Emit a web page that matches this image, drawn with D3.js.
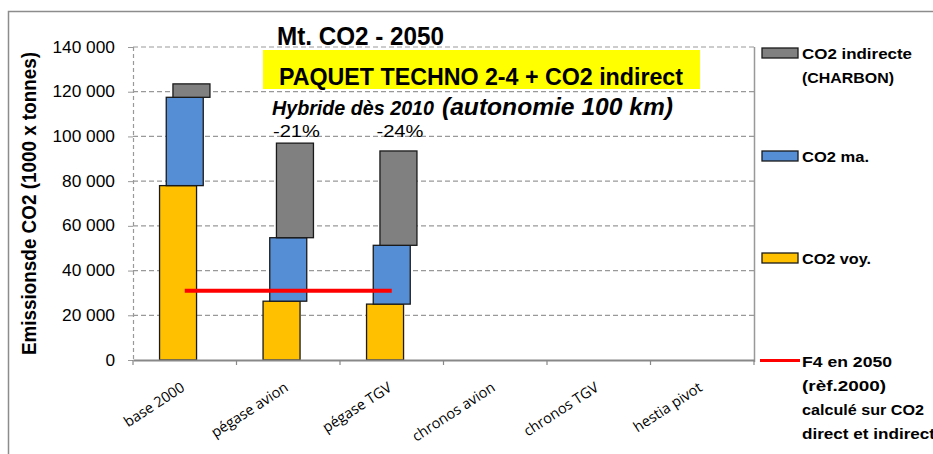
<!DOCTYPE html>
<html>
<head>
<meta charset="utf-8">
<script src="https://cdn.jsdelivr.net/npm/d3@7"></script>
<style>
  html, body { margin: 0; padding: 0; background: #fff; }
  svg { display: block; }
</style>
</head>
<body>
<svg id="chart" width="933" height="454"></svg>
<script>
// Scenario categories
const categories = ["base 2000", "pégase avion", "pégase TGV", "chronos avion", "chronos TGV", "hestia pivot"];
// CO2 emissions in 2050, thousand tonnes
const co2Voy = [78000, 26300, 25000, null, null, null];
const co2Ma = [39500, 28400, 26300, null, null, null];
const co2Indirect = [6000, 42300, 42200, null, null, null];
// Factor 4 target (relative to 2000), direct + indirect CO2
const f4Target = [31000, 31000, 31000, null, null, null];
const yTicks = [0, 20000, 40000, 60000, 80000, 100000, 120000, 140000];

const seriesNames = {
  indirect: ["CO2 indirecte", "(CHARBON)"],
  ma: ["CO2 ma."],
  voy: ["CO2 voy."],
  f4: ["F4 en 2050", "(rèf.2000)", "calculé sur CO2", "direct et indirect"]
};

const colors = { voy: "#FFC000", ma: "#558ED5", indirect: "#808080", f4: "#FF0000" };
const SANS = "Liberation Sans, Arial, sans-serif";

const svg = d3.select("#chart");
const plot = { left: 133, right: 754, top: 47, bottom: 360 };

// Helper: text squeezed/stretched to a given advance width
function fitText(sel, width) {
  return sel.attr("textLength", width).attr("lengthAdjust", "spacingAndGlyphs");
}

// Outer chart frame
svg.append("rect")
  .attr("x", 8.5).attr("y", 11.5).attr("width", 1000).attr("height", 1000)
  .attr("fill", "none").attr("stroke", "#8c8c8c").attr("stroke-width", 1.5);

const x = d3.scaleBand().domain(categories).range([plot.left, plot.right]).padding(0);
const y = d3.scaleLinear().domain([0, 140000]).range([plot.bottom, plot.top]);

// Horizontal dashed gridlines
svg.append("g").selectAll("line").data(yTicks.filter(d => d > 0)).join("line")
  .attr("x1", plot.left).attr("x2", plot.right)
  .attr("y1", d => y(d)).attr("y2", d => y(d))
  .attr("stroke", "#999").attr("stroke-width", 1.2).attr("stroke-dasharray", "5,3");

// Right edge of plot area
svg.append("line")
  .attr("x1", plot.right + 0.5).attr("x2", plot.right + 0.5)
  .attr("y1", plot.top).attr("y2", plot.bottom + 2)
  .attr("stroke", "#999").attr("stroke-width", 1.5);

// Y axis
const fmt = d => d3.format(",")(d).replace(/,/g, " ");
const yAxis = d3.axisLeft(y).tickValues(yTicks).tickSize(5).tickPadding(13).tickFormat(fmt);
const gy = svg.append("g").attr("transform", `translate(${plot.left},0)`).call(yAxis);
gy.select(".domain").attr("stroke", "#999").attr("stroke-width", 1.2).attr("stroke-dasharray", "4,3");
gy.selectAll(".tick line").attr("stroke", "#999");
gy.selectAll("text").attr("font-family", SANS).attr("font-size", 16).attr("fill", "#000")
  .each(function (d) {
    const s = fmt(d);
    const digits = s.replace(/\s/g, "").length;
    const spaces = s.length - digits;
    fitText(d3.select(this), digits * 9.6 + spaces * 5);
  });

// Stacked segments, each series shifted horizontally
const barW = 37, shift = 6.7;
const stackRows = categories.map((c, i) => ({
  cat: c,
  voy: co2Voy[i], ma: co2Ma[i], indirect: co2Indirect[i]
})).filter(d => d.voy != null);

const segments = [];
stackRows.forEach(d => {
  const a = d.voy, b = a + d.ma, c = b + d.indirect;
  segments.push({ cat: d.cat, y0: 0, y1: a, off: -shift, color: colors.voy });
  segments.push({ cat: d.cat, y0: a, y1: b, off: 0, color: colors.ma });
  segments.push({ cat: d.cat, y0: b, y1: c, off: shift, color: colors.indirect });
});

svg.append("g").selectAll("rect").data(segments).join("rect")
  .attr("x", d => x(d.cat) + x.bandwidth() / 2 + d.off - barW / 2)
  .attr("width", barW)
  .attr("y", d => y(d.y1))
  .attr("height", d => y(d.y0) - y(d.y1))
  .attr("fill", d => d.color)
  .attr("stroke", "#1a1a1a").attr("stroke-width", 1.3);

// X axis
const xAxis = d3.axisBottom(x).tickSize(0).tickFormat("");
const gx = svg.append("g").attr("transform", `translate(0,${plot.bottom})`).call(xAxis);
gx.select(".domain").attr("stroke", "#888").attr("stroke-width", 2);
// category boundary ticks
svg.append("g").selectAll("line").data(d3.range(categories.length + 1)).join("line")
  .attr("x1", i => plot.left + i * x.bandwidth()).attr("x2", i => plot.left + i * x.bandwidth())
  .attr("y1", plot.bottom).attr("y2", plot.bottom + 5)
  .attr("stroke", "#888").attr("stroke-width", 1.2);

// Rotated category labels
svg.append("g").selectAll("text").data(categories).join("text")
  .attr("transform", d => `translate(${x(d) + x.bandwidth() / 2 + 1},${plot.bottom + 30}) rotate(-33)`)
  .attr("text-anchor", "end")
  .attr("font-family", "Open Sans, sans-serif").attr("font-size", 14.5).attr("fill", "#000")
  .text(d => d);

// F4 target line
const line = d3.line().defined(d => d.v != null)
  .x(d => x(d.c) + x.bandwidth() / 2).y(d => y(d.v));
svg.append("path")
  .datum(categories.map((c, i) => ({ c, v: f4Target[i] })))
  .attr("d", line).attr("fill", "none")
  .attr("stroke", colors.f4).attr("stroke-width", 4);

// Reduction vs base 2000 above stacks
const baseTotal = co2Voy[0] + co2Ma[0] + co2Indirect[0];
const pctLabels = stackRows.slice(1).map(d => ({
  cat: d.cat,
  pct: Math.round(((d.voy + d.ma + d.indirect) / baseTotal - 1) * 100)
}));
fitText(svg.append("g").selectAll("text").data(pctLabels).join("text")
  .attr("x", d => x(d.cat) + x.bandwidth() / 2 + shift + 1.5)
  .attr("y", 137)
  .attr("text-anchor", "middle")
  .attr("font-family", SANS).attr("font-size", 17)
  .text(d => d.pct + "%"), 47);

// Titles
fitText(svg.append("text").attr("x", 277).attr("y", 45)
  .attr("font-family", SANS).attr("font-weight", "bold").attr("font-size", 25)
  .text("Mt. CO2 - 2050"), 167);

svg.append("rect").attr("x", 263).attr("y", 50).attr("width", 437).attr("height", 39).attr("fill", "#FFFF00");
fitText(svg.append("text").attr("x", 279).attr("y", 85)
  .attr("font-family", SANS).attr("font-weight", "bold").attr("font-size", 24)
  .text("PAQUET TECHNO 2-4 + CO2 indirect"), 404);

fitText(svg.append("text").attr("x", 272).attr("y", 115)
  .attr("font-family", SANS).attr("font-weight", "bold").attr("font-style", "italic")
  .attr("font-size", 20).text("Hybride dès 2010"), 162);
fitText(svg.append("text").attr("x", 442).attr("y", 115)
  .attr("font-family", SANS).attr("font-weight", "bold").attr("font-style", "italic")
  .attr("font-size", 23.5).text("(autonomie 100 km)"), 231);

// Y axis title
fitText(svg.append("text")
  .attr("transform", "translate(36,203.5) rotate(-90)")
  .attr("text-anchor", "middle")
  .attr("font-family", SANS).attr("font-weight", "bold").attr("font-size", 20.5)
  .text("Emissionsde CO2 (1000 x tonnes)"), 303);

// Legend
const legend = [
  { key: "indirect", y: 48, type: "rect", widths: [110, 92] },
  { key: "ma", y: 151, type: "rect", widths: [67] },
  { key: "voy", y: 253, type: "rect", widths: [69] },
  { key: "f4", y: 355.5, type: "line", widths: [90, 84, 122, 133] }
];
const lg = svg.append("g");
legend.forEach(l => {
  if (l.type === "rect") {
    lg.append("rect").attr("x", 762).attr("y", l.y).attr("width", 36).attr("height", 10)
      .attr("fill", colors[l.key]).attr("stroke", "#1a1a1a").attr("stroke-width", 1.3);
  } else {
    lg.append("line").attr("x1", 760).attr("x2", 800).attr("y1", l.y + 5).attr("y2", l.y + 5)
      .attr("stroke", colors.f4).attr("stroke-width", 3);
  }
  seriesNames[l.key].forEach((s, i) => {
    fitText(lg.append("text").attr("x", 802).attr("y", l.y + 11 + i * 24)
      .attr("font-family", SANS).attr("font-weight", "bold").attr("font-size", 15.5)
      .text(s), l.widths[i]);
  });
});
</script>
</body>
</html>
